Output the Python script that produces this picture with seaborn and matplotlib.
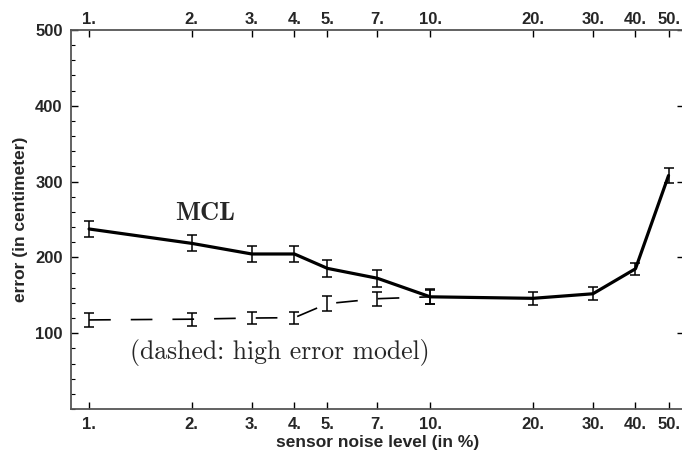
import matplotlib
matplotlib.use("Agg")
import matplotlib.pyplot as plt
import seaborn as sns
import pandas as pd
from matplotlib.ticker import FixedLocator, MultipleLocator, NullLocator

# ---- data ----
noise = [1, 2, 3, 4, 5, 7, 10, 20, 30, 40, 50]
mcl = [237.5, 218.5, 204.5, 204.5, 185.5, 172.5, 148, 146, 152, 185, 308]
mcl_err = [10, 10.5, 11, 11, 11, 11, 10, 9, 8.5, 8, 10.5]
noise_high = [1, 2, 3, 4, 5, 7, 10]
high = [117.5, 118.5, 120, 120.5, 139, 145.5, 148]
high_err = [9, 8.5, 8.3, 8, 9.5, 9.5, 9]
xtick_vals = [1, 2, 3, 4, 5, 7, 10, 20, 30, 40, 50]
xtick_labels = ["1.", "2.", "3.", "4.", "5.", "7.", "10.", "20.", "30.", "40.", "50."]
ytick_vals = [100, 200, 300, 400, 500]

sns.set_style("ticks")
plt.rcParams["font.family"] = ["Liberation Sans", "DejaVu Sans"]

fig = plt.figure(figsize=(6.82, 4.54), dpi=100)
ax = fig.add_axes([71 / 682, 45 / 454, 613 / 682, 379 / 454])

df_mcl = pd.DataFrame({"noise": noise, "err": mcl})
df_high = pd.DataFrame({"noise": noise_high, "err": high})

sns.lineplot(data=df_mcl, x="noise", y="err", ax=ax, color="black", lw=2.3)
sns.lineplot(data=df_high, x="noise", y="err", ax=ax, color="black", lw=1.2,
             dashes=False)
ax.lines[-1].set_dashes((13, 12))
ax.errorbar(noise, mcl, yerr=mcl_err, fmt="none", ecolor="black", elinewidth=1.1,
            capsize=3.8, capthick=1.1)
ax.errorbar(noise_high, high, yerr=high_err, fmt="none", ecolor="black",
            elinewidth=1.1, capsize=3.8, capthick=1.1)

ax.set_xscale("log")
ax.set_xlim(0.885, 55.5)
ax.set_ylim(0, 500)

ax.xaxis.set_major_locator(FixedLocator(xtick_vals))
ax.xaxis.set_minor_locator(NullLocator())
ax.set_xticklabels(xtick_labels)
ax.yaxis.set_major_locator(FixedLocator(ytick_vals))
ax.yaxis.set_minor_locator(MultipleLocator(20))

for s in ax.spines.values():
    s.set_color("#555555")
    s.set_linewidth(1.3)

ax.tick_params(axis="x", which="major", direction="in", length=5, width=1,
               top=False, bottom=True, labeltop=False, labelbottom=True,
               labelsize=12, pad=6, color="black")
ax.tick_params(axis="y", which="major", direction="in", length=5, width=1,
               left=True, right=True, labelsize=12, pad=6, color="black")
ax.tick_params(axis="y", which="minor", direction="in", length=3, width=0.8,
               left=True, right=False, color="black")

top = ax.secondary_xaxis("top")
top.set_xticks(xtick_vals)
top.set_xticklabels(xtick_labels)
top.xaxis.set_minor_locator(NullLocator())
top.tick_params(axis="x", which="major", direction="in", length=5, width=1,
                labelsize=12, pad=2, color="black")
top.spines["top"].set_visible(False)

for lab in ax.get_xticklabels() + ax.get_yticklabels() + top.get_xticklabels():
    lab.set_fontweight("bold")

ax.set_xlabel("sensor noise level (in %)", fontsize=12.5, fontweight="bold",
              labelpad=2)
ax.set_ylabel("error (in centimeter)", fontsize=12.5, fontweight="bold",
              labelpad=5)

ax.text(2.19, 258, "MCL", family=["cmb10", "DejaVu Serif"], fontsize=19,
        ha="center", va="center")
ax.text(3.62, 75, "(dashed: high error model)", family=["cmr10", "DejaVu Serif"],
        fontsize=18.5, ha="center", va="center")

fig.savefig("out.png", dpi=100)
